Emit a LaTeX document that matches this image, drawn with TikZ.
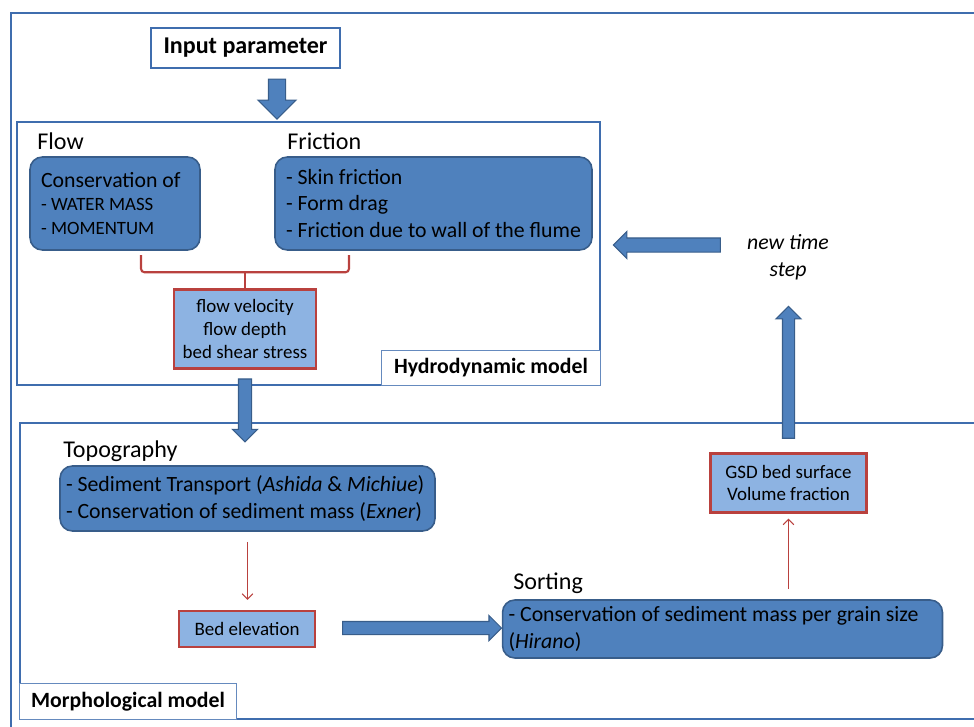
\documentclass[tikz,border=0pt]{standalone}
\usepackage{fontspec}
\setmainfont{Carlito}
\usetikzlibrary{arrows.meta, positioning, shapes.arrows, calc}

\definecolor{procfill}{HTML}{4F81BD}
\definecolor{procedge}{HTML}{385D8A}
\definecolor{resfill}{HTML}{8DB3E2}
\definecolor{resedge}{HTML}{B9413E}
\definecolor{frameline}{HTML}{3F6DAE}

\newcommand{\fs}[2]{\fontsize{#1}{#2}\selectfont}

\tikzset{
  frame/.style={draw=frameline, line width=1.1pt, inner sep=0pt},
  modeltag/.style={draw=frameline!80, fill=white, line width=0.5pt,
    font=\fs{12.4}{14}\bfseries, inner sep=0pt},
  heading/.style={anchor=base west, inner sep=0pt, font=\fs{13.7}{16}},
  process/.style={draw=procedge, fill=procfill, line width=0.9pt,
    rounded corners=7pt, align=left, inner sep=0pt,
    execute at begin node={\spaceskip=0pt\xspaceskip=0pt\relax}},
  result/.style={draw=resedge, fill=resfill, line width=1.4pt,
    align=center, inner sep=0pt, font=\fs{10.8}{13}},
  bigarrow/.style={single arrow, draw=procedge, fill=procfill,
    line width=0.6pt, single arrow tip angle=90},
  link/.style={draw=resedge, line width=0.6pt,
    -{Straight Barb[length=3pt,width=6pt]}},
  bracket/.style={draw=resedge, line width=1.2pt, rounded corners=2pt},
}

\begin{document}
\begin{tikzpicture}[x=0.02cm, y=-0.02cm]
  \path[use as bounding box, clip] (0,0) rectangle (974,727);

  % frames
  \draw[frame] (11,13) rectangle (1000,760);
  \node[frame, minimum width=11.66cm, minimum height=5.26cm] (hydro) at (308.5,253.5) {};
  \node[frame, minimum width=19.6cm, minimum height=5.92cm] (morph) at (510,571) {};
  \node[modeltag, anchor=south east, minimum width=4.38cm, minimum height=0.7cm]
    (hydrotag) at (hydro.south east) {Hydrodynamic model};
  \node[modeltag, anchor=south west, minimum width=4.34cm, minimum height=0.72cm]
    (morphtag) at (morph.south west) {Morphological model};

  \node[draw=frameline, line width=0.7pt, inner sep=0pt, minimum width=3.78cm,
    minimum height=0.8cm, font=\fs{13.7}{16}\bfseries] (input) at (245.5,48) {Input parameter};

  % hydrodynamic part
  \node[heading] (flowhd) at (37,149) {Flow};
  \node[heading] (frichd) at (287,149) {Friction};
  \node[process, minimum width=3.4cm, minimum height=1.86cm, text width=2.96cm,
    font=\fs{12.4}{13.6}] (flow) at (115,203.5)
    {Conservation of\\{\fs{10.7}{13.6}- WATER MASS}\\{\fs{10.7}{13.6}- MOMENTUM}};
  \node[process, minimum width=6.34cm, minimum height=1.86cm, text width=5.9cm,
    font=\fs{12.4}{15}] (friction) at (433.5,203.5)
    {- Skin friction\\- Form drag\\- Friction due to wall of the flume};
  \node[result, minimum width=2.84cm, minimum height=1.58cm] (output) at (245,329)
    {flow velocity\\flow depth\\bed shear stress};

  \coordinate (brl) at (141,255);
  \coordinate (brr) at (349,255);
  \draw[bracket] (brl) |- ($(output.north)+(0,-16)$) -| (brr);
  \draw[bracket] ($(output.north)+(0,-16)$) -- (output.north);

  % morphological part
  \node[heading] (topohd) at (63,457) {Topography};
  \node[process, minimum width=7.5cm, minimum height=1.3cm, text width=7.26cm,
    font=\fs{12.4}{15}] (topo) at (247.5,498.5)
    {- Sediment Transport (\textit{Ashida} \& \textit{Michiue})\\- Conservation of sediment mass (\textit{Exner})};
  \node[result, minimum width=2.72cm, minimum height=0.72cm] (bed) at (247,629) {Bed elevation};
  \node[heading] (sorthd) at (513,589) {Sorting};
  \node[process, minimum width=8.8cm, minimum height=1.16cm, text width=8.56cm,
    font=\fs{12.4}{15.8}] (sorting) at (722.5,629)
    {- Conservation of sediment mass per grain size\\(\textit{Hirano})};
  \node[result, minimum width=3.12cm, minimum height=1.18cm] (gsd) at (788.5,483)
    {GSD bed surface\\Volume fraction};

  \node[font=\fs{12.4}{15.3}\itshape, align=center] (newstep) at (788,257) {new time\\step};

  % connectors
  \draw[link, shorten <=0.2cm, shorten >=0.2cm] (topo.south) -- (topo.south |- bed.north);
  \draw[link, shorten <=0.2cm, shorten >=0.1cm] (sorting.north -| gsd.south) -- (gsd.south);

  \node[bigarrow, shape border rotate=270, minimum height=0.8cm, inner sep=0.16cm,
    single arrow head extend=0.21cm] (arrin) at ($(input.south)!0.5!(hydro.north)$) {};
  \node[bigarrow, shape border rotate=270, minimum height=1.26cm, inner sep=0.12cm,
    single arrow head extend=0.12cm] (arrdown) at ($(output.south)+(0,37.5)$) {};
  \node[bigarrow, minimum height=3.18cm, inner sep=0.12cm,
    single arrow head extend=0.12cm] (arrsort) at ($(sorting.west)+(-83,-1)$) {};
  \node[bigarrow, shape border rotate=90, minimum height=2.64cm, inner sep=0.11cm,
    single arrow head extend=0.13cm] (arrup) at ($(gsd.north)+(0,-77)$) {};
  \node[bigarrow, shape border rotate=180, minimum height=2.14cm, inner sep=0.13cm,
    single arrow head extend=0.13cm] (arrback) at ($(hydro.east)+(69.5,-8.5)$) {};
\end{tikzpicture}
\end{document}
